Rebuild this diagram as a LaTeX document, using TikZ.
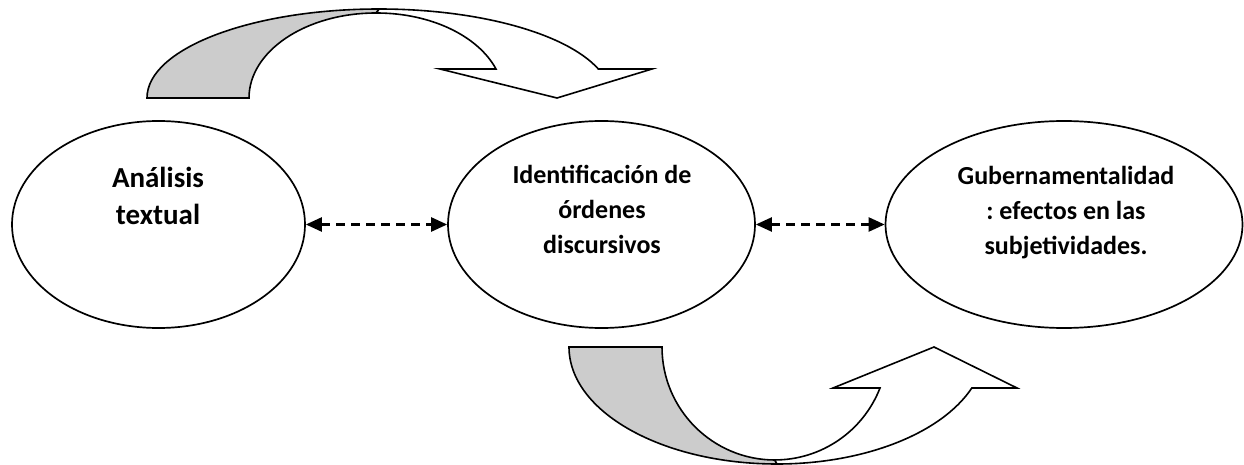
\documentclass[tikz,border=0pt]{standalone}
\usepackage{fontspec}
\setmainfont{Carlito}
\frenchspacing
\usetikzlibrary{shapes.geometric,arrows.meta}
\begin{document}
\begin{tikzpicture}[x=1pt,y=-1pt,
  oval/.style={draw=black, line width=1.7pt, ellipse, inner sep=0pt},
  lbl/.style={font=\fontsize{26}{35}\selectfont\bfseries, align=center, inner sep=0pt, anchor=north},
  biglbl/.style={lbl, font=\fontsize{29}{37}\selectfont\bfseries},
  dasharrow/.style={line width=2.4pt, dash pattern=on 9pt off 6pt, {Triangle[length=16pt,width=14pt]}-{Triangle[length=16pt,width=14pt]}},
  bandback/.style={fill=black!20, draw=black, line width=1.6pt, line join=miter},
  bandfront/.style={fill=white, draw=black, line width=1.6pt, line join=miter}]
\useasboundingbox (0,0) rectangle (1244,465);

% ellipses
\node[oval, minimum width=293pt, minimum height=207pt] (L) at (158.5,224.5) {};
\node[oval, minimum width=307pt, minimum height=207pt] (M) at (601.5,224.5) {};
\node[oval, minimum width=357pt, minimum height=207pt] (R) at (1064,224.5) {};

% texts
\node[biglbl] (Lt) at (158,158) {\rule{0pt}{29pt}Análisis\\textual};
\node[lbl] (Mt) at (602,157) {\rule{0pt}{26pt}Identificación de\\órdenes\\discursivos};
\node[lbl] (Rt) at (1066,158) {\rule{0pt}{26pt}Gubernamentalidad\\: efectos en las\\subjetividades.};

% dashed connectors
\draw[dasharrow] (L.east) -- (M.west);
\draw[dasharrow] (M.east) -- (R.west);

% top curved arrow
\draw[bandback] (147,98) arc[start angle=180,end angle=90,x radius=232pt,y radius=89pt]
  -- (376,13) arc[start angle=90,end angle=180,x radius=127pt,y radius=85pt] -- cycle;
\draw[bandfront] (379,9) arc[start angle=90,end angle=19.03,x radius=232pt,y radius=89pt]
  -- (652,69) -- (557,98) -- (440,69) -- (496,69)
  arc[start angle=19.95,end angle=90,x radius=127pt,y radius=85pt] -- cycle;

% bottom curved arrow
\draw[bandback] (569,347) arc[start angle=180,end angle=270,x radius=208pt,y radius=117pt]
  -- (775,460) arc[start angle=270,end angle=180,x radius=113pt,y radius=113pt] -- cycle;
\draw[bandfront] (777,464) arc[start angle=270,end angle=339.5,x radius=208pt,y radius=117pt]
  -- (1017,388) -- (934,347) -- (833,388) -- (880,388)
  arc[start angle=338.7,end angle=270,x radius=113pt,y radius=113pt] -- cycle;
\end{tikzpicture}
\end{document}
